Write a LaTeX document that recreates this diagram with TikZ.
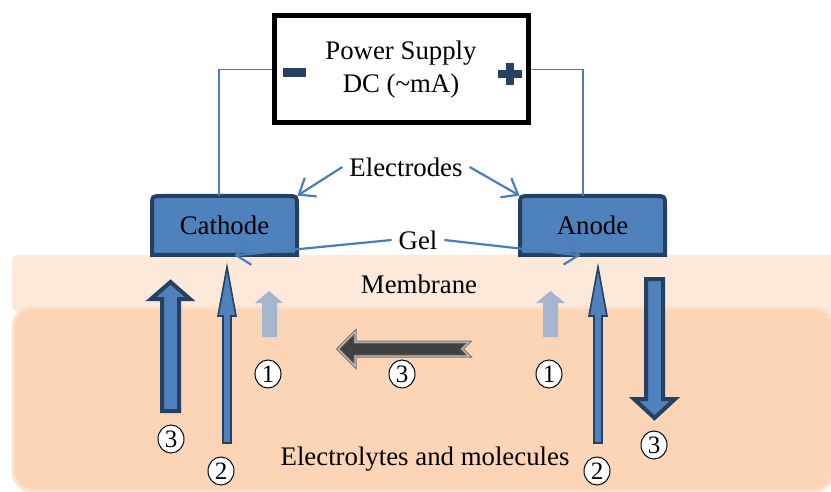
\documentclass[tikz,border=0pt]{standalone}
\usepackage{fontspec}
\setmainfont{Liberation Serif}
\usetikzlibrary{arrows.meta}
\definecolor{elecfill}{RGB}{79,129,189}
\definecolor{elecline}{RGB}{38,64,98}
\definecolor{wireblue}{RGB}{74,126,187}
\definecolor{membfill}{RGB}{253,233,218}
\definecolor{lytefill}{RGB}{251,213,181}
\definecolor{lyteline}{RGB}{252,227,208}
\definecolor{fadearrow}{RGB}{166,181,206}
\definecolor{darkarrow}{RGB}{64,64,64}
\definecolor{darkedge}{RGB}{110,110,110}
\definecolor{darklight}{RGB}{215,205,195}
\tikzset{
  wire/.style={draw=wireblue, line width=0.8pt},
  pointer/.style={draw=wireblue, line width=1.1pt, -{Straight Barb[length=7pt,width=11pt]}},
  elecbox/.style={fill=elecfill, draw=elecline, line width=2pt},
  bigarrow/.style={fill=elecfill, draw=elecline, line width=2pt},
  thinarrow/.style={fill=elecfill, draw=elecline, line width=0.8pt},
  fadedarrow/.style={fill=fadearrow},
  flowarrow/.style={fill=darkarrow, draw=darkedge, double=darklight, double distance=0.5pt, line width=0.5pt},
  numcirc/.style={ellipse, draw, fill=white, line width=0.5pt, minimum width=13pt, minimum height=14pt, inner sep=0pt, font=\fontsize{12.5}{13}\selectfont},
  txt/.style={font=\fontsize{13.4}{16.5}\selectfont}
}
\usetikzlibrary{shapes.geometric}
\begin{document}
\begin{tikzpicture}[x=0.5pt, y=-0.5pt]
    \useasboundingbox (0,0) rectangle (831,492);
    \fill[membfill, rounded corners=3pt] (12,255) rectangle (845,312);
    \draw[fill=lytefill, draw=lyteline, line width=1.5pt, rounded corners=10pt] (13,307) rectangle (834,491);
    \node[txt] (membrane) at (419,284) {Membrane};
    \node[txt] (lytes) at (425,459) {Electrolytes and molecules};

    \node[draw, line width=2.5pt, minimum width=127pt, minimum height=53.5pt, txt, align=center] (psu) at (401,69.5) {Power Supply\\DC (\textasciitilde mA)};
    \fill[elecline] (283,68) rectangle (306,77);
    \fill[elecline] (498,70) rectangle (522,78);
    \fill[elecline] (506,63) rectangle (514,85);

    \draw[elecbox] (152,255) -- (152,206) .. controls (152,196) .. (162,196) -- (287,196) .. controls (297,196) .. (297,206) -- (297,255) -- cycle;
    \draw[elecbox] (520,255) -- (520,206) .. controls (520,196) .. (530,196) -- (655,196) .. controls (665,196) .. (665,206) -- (665,255) -- cycle;
    \node[txt, minimum width=72.5pt, minimum height=29.5pt] (cathode) at (224.5,225.5) {Cathode};
    \node[txt, minimum width=72.5pt, minimum height=29.5pt] (anode) at (592.5,225.5) {Anode};

    \draw[wire] (psu.west) -| ([xshift=-2.75pt]cathode.north);
    \draw[wire] (psu.east) -| ([xshift=-4.75pt]anode.north);

    \node[txt] (electrodes) at (406,167) {Electrodes};
    \draw[pointer] (electrodes.west) -- (cathode.north east);
    \draw[pointer] (electrodes.east) -- (anode.north west);

    \node[txt] (gel) at (418,240) {Gel};
    \draw[pointer] (gel.west) -- ([xshift=5pt]cathode.south);
    \draw[pointer] (gel.east) -- ([xshift=-6pt]anode.south);

    \draw[bigarrow] (162,411) -- (162,299) -- (151,299) -- (170.5,282) -- (190,299) -- (179,299) -- (179,411) -- cycle;
    \draw[thinarrow] (223,443) -- (223,316) -- (218,316) -- (227,267) -- (236,316) -- (231,316) -- (231,443) -- cycle;
    \fill[fadedarrow] (262,337) -- (262,303) -- (255,303) -- (269,291) -- (283,303) -- (277,303) -- (277,337) -- cycle;
    \fill[fadedarrow] (543,337) -- (543,303) -- (536,303) -- (550.5,291) -- (565,303) -- (558,303) -- (558,337) -- cycle;
    \draw[thinarrow] (594,443) -- (594,316) -- (589,316) -- (598,267) -- (607,316) -- (602,316) -- (602,443) -- cycle;
    \draw[bigarrow] (646,279) -- (646,399) -- (634,399) -- (654.5,418) -- (675,399) -- (663,399) -- (663,279) -- cycle;
    \draw[flowarrow] (338,349) -- (355,332) -- (355,342) -- (469,342) -- (462,349) -- (469,356) -- (355,356) -- (355,366) -- cycle;

    \node[numcirc] (oneL) at (268,374) {1};
    \node[numcirc] (twoL) at (221,471) {2};
    \node[numcirc] (threeL) at (171,439) {3};
    \node[numcirc] (threeM) at (402,374) {3};
    \node[numcirc] (oneR) at (549,374) {1};
    \node[numcirc] (twoR) at (597,471) {2};
    \node[numcirc] (threeR) at (654,445) {3};
\end{tikzpicture}
\end{document}
